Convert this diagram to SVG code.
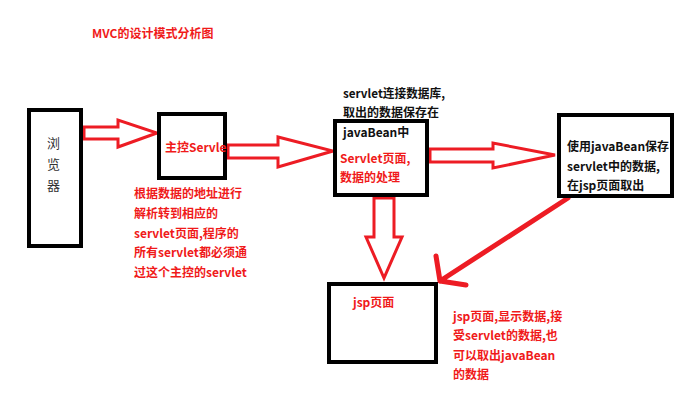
<svg xmlns="http://www.w3.org/2000/svg" width="700" height="416" viewBox="0 0 700 416">
<style>
text{font-family:"Noto Sans CJK SC","Noto Sans",sans-serif;font-size:12px;font-weight:bold}
.r{fill:#f01a1a}
.k{fill:#111}
.box{fill:#fff;stroke:#000;stroke-width:4}
.ha{fill:#fff;stroke:#ed1c24;stroke-width:3;stroke-linejoin:miter}
.ln{fill:none;stroke:#ed1c24;stroke-width:5;stroke-linecap:round;stroke-linejoin:round}
</style>
<rect width="700" height="416" fill="#fff"/>
<text class="r" x="92" y="38">MVC的设计模式分析图</text>
<g id="connectors">
<polygon class="ha" points="84,127 118,127 118,120 157,133 118,147 118,139 84,139"/>
<polygon class="ha" points="228,145 278,145 278,137 333,151 278,167 278,158 228,158"/>
<polygon class="ha" points="430,149 493,149 493,143 555,155 493,168 493,162 430,162"/>
<polygon class="ha" points="374,198 374,237 366,237 384,278 402,237 394,237 394,198"/>
<path class="ln" d="M568,198 L440,281 M436,256 L440,281 L466,285"/>
</g>
<g id="browser">
<rect class="box" x="29" y="110" width="52" height="136"/>
<text x="47" y="148" style="font-weight:normal;font-size:13px;fill:#333">浏</text>
<text x="47" y="169" style="font-weight:normal;font-size:13px;fill:#333">览</text>
<text x="47" y="190" style="font-weight:normal;font-size:13px;fill:#333">器</text>
</g>
<g id="main-servlet">
<rect class="box" x="159" y="114" width="66" height="64"/>
<text class="r" x="165" y="152">主控Servle</text>
</g>
<g id="main-servlet-note">
<text class="r" x="134" y="198">根据数据的地址进行</text>
<text class="r" x="134" y="218">解析转到相应的</text>
<text class="r" x="134" y="238">servlet页面,程序的</text>
<text class="r" x="134" y="257">所有servlet都必须通</text>
<text class="r" x="134" y="277">过这个主控的servlet</text>
</g>
<g id="javabean">
<text class="k" x="343" y="98" textLength="102" lengthAdjust="spacingAndGlyphs">servlet连接数据库,</text>
<text class="k" x="343" y="117">取出的数据保存在</text>
<rect class="box" x="335" y="121" width="92" height="74"/>
<text class="k" x="343" y="137">javaBean中</text>
<text class="r" x="340" y="163">Servlet页面,</text>
<text class="r" x="340" y="182">数据的处理</text>
</g>
<g id="javabean-store">
<rect class="box" x="559" y="115" width="113" height="81"/>
<text class="k" x="567" y="151" textLength="102" lengthAdjust="spacingAndGlyphs">使用javaBean保存</text>
<text class="k" x="567" y="171">servlet中的数据,</text>
<text class="k" x="567" y="190">在jsp页面取出</text>
</g>
<g id="jsp">
<rect class="box" x="329" y="284" width="107" height="78"/>
<text class="r" x="353" y="307">jsp页面</text>
</g>
<g id="jsp-note">
<text class="r" x="453" y="321">jsp页面,显示数据,接</text>
<text class="r" x="453" y="340">受servlet的数据,也</text>
<text class="r" x="453" y="360">可以取出javaBean</text>
<text class="r" x="453" y="379">的数据</text>
</g>
</svg>
